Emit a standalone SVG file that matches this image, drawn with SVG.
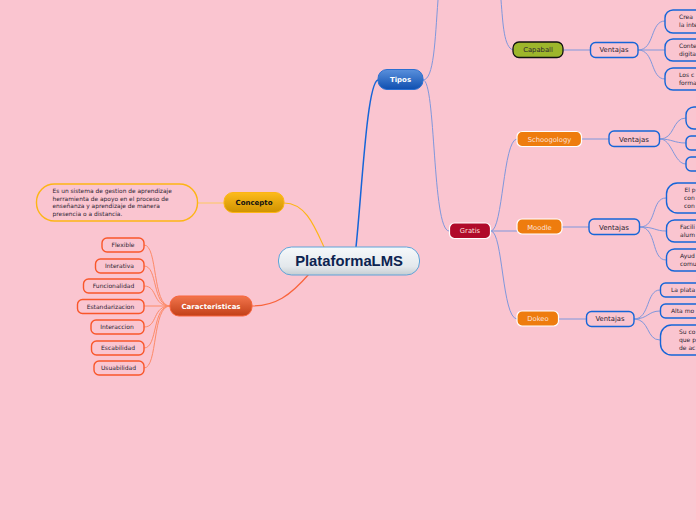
<svg xmlns="http://www.w3.org/2000/svg" width="696" height="520" viewBox="0 0 696 520">
<defs>
<linearGradient id="gc" x1="0" y1="0" x2="0" y2="1"><stop offset="0" stop-color="#f6f9fb"/><stop offset="0.7" stop-color="#e3e8ec"/><stop offset="1" stop-color="#c5cdd2"/></linearGradient>
<linearGradient id="gb" x1="0" y1="0" x2="0" y2="1"><stop offset="0" stop-color="#5a90dc"/><stop offset="1" stop-color="#0f4fb0"/></linearGradient>
<linearGradient id="gy" x1="0" y1="0" x2="0" y2="1"><stop offset="0" stop-color="#fdbb1c"/><stop offset="1" stop-color="#cf9200"/></linearGradient>
<linearGradient id="gr" x1="0" y1="0" x2="0" y2="1"><stop offset="0" stop-color="#f2754c"/><stop offset="1" stop-color="#c23f18"/></linearGradient>
</defs>
<style>
text{font-family:"DejaVu Sans","Liberation Sans",sans-serif;font-size:6px;fill:#2c2430;text-anchor:middle}
.c{fill:none;stroke:#7f97dc;stroke-width:1}
.o{fill:none;stroke:#fd8a68;stroke-width:1}
.vb{fill:#fac5d0;stroke:#1565d8;stroke-width:1.4}
.ob{fill:#fac5d0;stroke:#f9562a;stroke-width:1.4}
.or{fill:#ee7c0e;stroke:#fff;stroke-width:1.2}
.w{fill:#fde0dc;font-size:6.8px}
.l{text-anchor:start}
.p{font-size:5.900px}
.s{font-size:6.800px}
.m{font-size:7px}
</style>
<rect width="696" height="520" fill="#fac5d0"/>
<g id="connectors">
<path d="M356 247C362 190 367 82 378 80" fill="none" stroke="#1565d8" stroke-width="1.5"/>
<path d="M324 247C314 225 305 203 284 203" fill="none" stroke="#fdb515" stroke-width="1.2"/>
<path d="M309 274C290 296 275 306 252 306" fill="none" stroke="#f9643c" stroke-width="1.2"/>
<path d="M224 203H198" fill="none" stroke="#fdc860" stroke-width="1"/>
<path class="c" d="M423 80C434 80 435 40 438 0"/>
<path class="c" d="M423 80C436 80 432 230 449 231"/>
<path class="c" d="M501 0C503 25 504 47 513 50"/>
<path class="c" d="M491 231C503 230 503 140 517 139"/>
<path class="c" d="M491 231H517"/>
<path class="c" d="M491 231C503 232 502 318 517 319"/>
<path class="c" stroke-width="1.5" d="M563 50H590M582 139H609M562 227H589M559 319H586"/>
<path class="c" d="M638 50C655 50 650 21 665 21M638 50H665M638 50C655 50 650 79 665 79"/>
<path class="c" d="M660 139C675 139 672 118 686 118M660 139C672 139 674 143 686 143M660 139C672 139 674 164 686 164"/>
<path class="c" d="M640 227C657 227 651 198 666 198M640 227C655 227 655 231 666 231M640 227C657 227 651 260 666 260"/>
<path class="c" d="M634 319C650 319 646 290 660 290M634 319C648 319 648 311 660 311M634 319C650 319 646 340 660 340"/>
<path class="o" d="M170 306C152 306 158 245 144 245"/>
<path class="o" d="M170 306C152 306 158 266 144 266"/>
<path class="o" d="M170 306C152 306 158 286 144 286"/>
<path class="o" d="M170 306H144"/>
<path class="o" d="M170 306C152 306 158 327 144 327"/>
<path class="o" d="M170 306C152 306 158 348 144 348"/>
<path class="o" d="M170 306C152 306 158 368 144 368"/>
</g>
<g id="central"><rect x="278.500" y="247" width="141" height="28" rx="13" fill="url(#gc)" stroke="#5fa3d8" stroke-width="1"/><text x="349" y="266" style="font-family:'Liberation Sans',sans-serif;font-size:14.800px;font-weight:700;fill:#0c2350">PlataformaLMS</text></g>
<g id="tipos"><rect x="378" y="69.500" width="45" height="20" rx="9" fill="url(#gb)" stroke="#2b6fd0"/><text x="400.500" y="82" style="font-size:7px;font-weight:700;fill:#fff">Tipos</text></g>
<g id="concepto"><rect x="224" y="192.500" width="60" height="20" rx="9" fill="url(#gy)" stroke="#fdb515"/><text x="254" y="205" style="font-size:7px;font-weight:700;fill:#111">Concepto</text></g>
<g id="concepto-texto"><rect x="36.500" y="184" width="161" height="37" rx="18" fill="#fac5d0" stroke="#fdb515" stroke-width="1.4"/>
<text class="l p" x="52.500" y="193">Es un sistema de gestion de aprendizaje</text><text class="l p" x="52.500" y="201">herramienta de apoyo en el proceso de</text><text class="l p" x="52.500" y="208">enseñanza y aprendizaje de manera</text><text class="l p" x="52.500" y="216">presencia o a distancia.</text></g>
<g id="caracteristicas"><rect x="170" y="296" width="82" height="20" rx="9" fill="url(#gr)" stroke="#f9643c"/><text x="211" y="309" style="font-size:7px;font-weight:700;fill:#fff">Caracteristicas</text></g>
<g id="flexible"><rect class="ob" x="102" y="238" width="42" height="14" rx="5"/><text x="123" y="247">Flexible</text></g>
<g id="interativa"><rect class="ob" x="95.500" y="259" width="48.500" height="14" rx="5"/><text x="119.500" y="268">Interativa</text></g>
<g id="funcionalidad"><rect class="ob" x="83.500" y="279" width="60.500" height="14" rx="5"/><text x="113.500" y="288">Funcionalidad</text></g>
<g id="estandarizacion"><rect class="ob" x="77.500" y="299.500" width="66.500" height="14" rx="5"/><text x="110.500" y="309">Estandarizacion</text></g>
<g id="interaccion"><rect class="ob" x="91" y="320" width="53" height="14" rx="5"/><text x="117" y="329">Interaccion</text></g>
<g id="escabilidad"><rect class="ob" x="91.500" y="341" width="52.500" height="14" rx="5"/><text x="118" y="350">Escabilidad</text></g>
<g id="usuabilidad"><rect class="ob" x="94" y="361" width="50" height="14" rx="5"/><text x="118.500" y="370">Usuabilidad</text></g>
<g id="capaball"><rect x="513" y="42" width="50" height="15.500" rx="6" fill="#9db62b" stroke="#111" stroke-width="1.3"/><text class="s" x="538" y="52">Capaball</text></g>
<g id="gratis"><rect x="449.500" y="223" width="41" height="15.500" rx="5" fill="#b00a2a" stroke="#fff" stroke-width="1.2"/><text x="470" y="233" class="w">Gratis</text></g>
<g id="schoogology"><rect class="or" x="517" y="131.500" width="64.500" height="15" rx="5"/><text x="549.500" y="141.500" class="w">Schoogology</text></g>
<g id="moodle"><rect class="or" x="517" y="219" width="45" height="15" rx="5"/><text x="539.500" y="229.500" class="w">Moodle</text></g>
<g id="dokeo"><rect class="or" x="517" y="311" width="41.500" height="15" rx="5"/><text x="538" y="321" class="w">Dokeo</text></g>
<g id="v1"><rect class="vb" x="590.500" y="42.500" width="47.500" height="15" rx="5"/><text class="s" x="614" y="52">Ventajas</text></g>
<g id="v2"><rect class="vb" x="609" y="131" width="50.500" height="15.500" rx="5"/><text class="m" x="634" y="141.500">Ventajas</text></g>
<g id="v3"><rect class="vb" x="589" y="219" width="50.500" height="15.500" rx="5"/><text class="m" x="614" y="229.500">Ventajas</text></g>
<g id="v4"><rect class="vb" x="586.500" y="311.500" width="47.500" height="15" rx="5"/><text class="s" x="610" y="321">Ventajas</text></g>
<g id="a1"><rect class="vb" x="665" y="10" width="50" height="23" rx="8"/><text class="l" x="679" y="19">Crea</text><text class="l" x="679" y="27">la inte</text></g>
<g id="a2"><rect class="vb" x="665" y="39" width="50" height="22" rx="8"/><text class="l" x="679" y="48">Conte</text><text class="l" x="679" y="56">digita</text></g>
<g id="a3"><rect class="vb" x="665" y="68" width="50" height="22" rx="8"/><text class="l" x="679" y="77">Los c</text><text class="l" x="679" y="85">forma</text></g>
<g id="b1"><rect class="vb" x="686" y="107" width="30" height="22" rx="8"/></g>
<g id="b2"><rect class="vb" x="686" y="136" width="30" height="14" rx="5"/></g>
<g id="b3"><rect class="vb" x="686" y="157" width="30" height="14" rx="5"/></g>
<g id="c1"><rect class="vb" x="666.500" y="183" width="50" height="30" rx="11"/><text class="l" x="684.500" y="192">El p</text><text class="l" x="684" y="200">con</text><text class="l" x="684" y="208">con</text></g>
<g id="c2"><rect class="vb" x="666.500" y="220" width="50" height="22" rx="8"/><text class="l" x="680" y="229">Facili</text><text class="l" x="680" y="237">alum</text></g>
<g id="c3"><rect class="vb" x="666.500" y="249" width="50" height="22" rx="8"/><text class="l" x="680" y="258">Ayud</text><text class="l" x="680" y="266">comu</text></g>
<g id="d1"><rect class="vb" x="660.500" y="283" width="55" height="14" rx="5"/><text class="l" x="671" y="292">La plata</text></g>
<g id="d2"><rect class="vb" x="660.500" y="304" width="55" height="14" rx="5"/><text class="l" x="671" y="313">Alta mo</text></g>
<g id="d3"><rect class="vb" x="660.500" y="325" width="55" height="30" rx="11"/><text class="l" x="679" y="334">Su co</text><text class="l" x="679" y="342">que p</text><text class="l" x="679" y="350">de ac</text></g>
</svg>
